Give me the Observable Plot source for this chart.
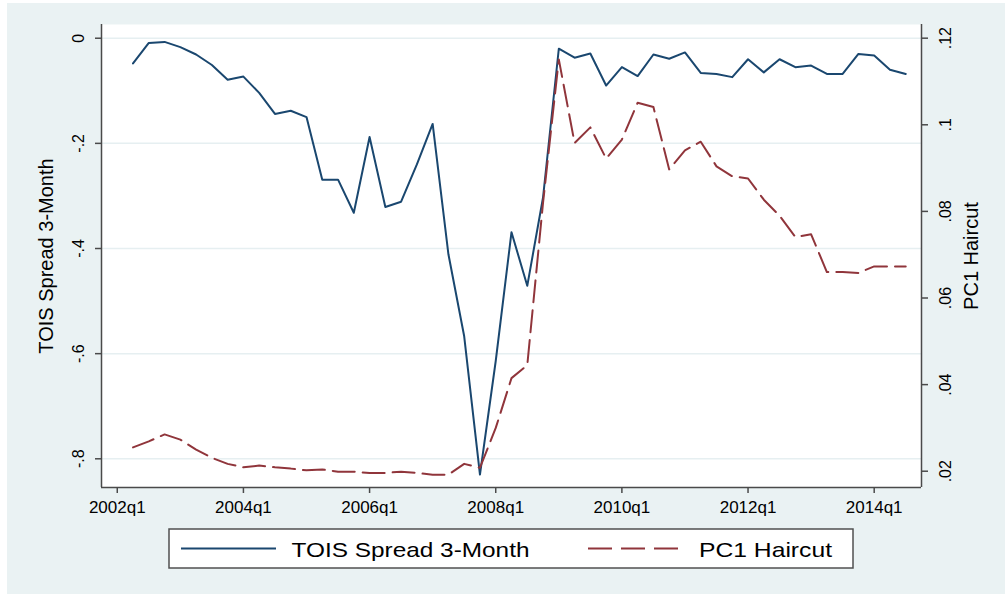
<!DOCTYPE html>
<html>
<head>
<meta charset="utf-8">
<script src="https://cdn.jsdelivr.net/npm/d3@7"></script>
<script src="https://cdn.jsdelivr.net/npm/@observablehq/plot@0.6"></script>
<style>
  html, body { margin: 0; padding: 0; background: #ffffff; }
  #bg { position: absolute; left: 7px; top: 3px; width: 998px; height: 591px; background: #EAF2F3; }
  #chart { position: absolute; left: 0; top: 0; }
  #legend { position: absolute; left: 168px; top: 528px; }
</style>
</head>
<body>
<div id="bg"></div>
<div id="chart"></div>
<div id="legend"></div>
<script>
// ---------------- data ----------------
const quarters = [
  "2002q2","2002q3","2002q4",
  "2003q1","2003q2","2003q3","2003q4",
  "2004q1","2004q2","2004q3","2004q4",
  "2005q1","2005q2","2005q3","2005q4",
  "2006q1","2006q2","2006q3","2006q4",
  "2007q1","2007q2","2007q3","2007q4",
  "2008q1","2008q2","2008q3","2008q4",
  "2009q1","2009q2","2009q3","2009q4",
  "2010q1","2010q2","2010q3","2010q4",
  "2011q1","2011q2","2011q3","2011q4",
  "2012q1","2012q2","2012q3","2012q4",
  "2013q1","2013q2","2013q3","2013q4",
  "2014q1","2014q2","2014q3"
];
const toisSpread = [
  -0.048, -0.009, -0.007,
  -0.017, -0.031, -0.051, -0.079,
  -0.073, -0.104, -0.144, -0.138,
  -0.150, -0.269, -0.269, -0.332,
  -0.188, -0.321, -0.311, -0.240,
  -0.163, -0.411, -0.567, -0.830,
  -0.614, -0.369, -0.471, -0.303,
  -0.020, -0.037, -0.029, -0.090,
  -0.055, -0.072, -0.031, -0.039,
  -0.027, -0.066, -0.068, -0.074,
  -0.040, -0.065, -0.040, -0.055,
  -0.052, -0.068, -0.068, -0.030,
  -0.033, -0.060, -0.068
];
const pc1Haircut = [
  0.0255, 0.0269, 0.0285,
  0.0273, 0.0250, 0.0231, 0.0217,
  0.0209, 0.0213, 0.0209, 0.0206,
  0.0202, 0.0204, 0.0199, 0.0199,
  0.0196, 0.0196, 0.0199, 0.0196,
  0.0192, 0.0192, 0.0217, 0.0208,
  0.0300, 0.0415, 0.0445, 0.0820,
  0.1151, 0.0958, 0.0994, 0.0922,
  0.0966, 0.1051, 0.1041, 0.0897,
  0.0941, 0.0961, 0.0904, 0.0881,
  0.0876, 0.0827, 0.0790, 0.0741,
  0.0747, 0.0660, 0.0660, 0.0658,
  0.0673, 0.0673, 0.0673
];
const xTickLabels = ["2002q1","2004q1","2006q1","2008q1","2010q1","2012q1","2014q1"];
const leftTicks = [0, -0.2, -0.4, -0.6, -0.8];
const leftTickLabels = ["0", "-.2", "-.4", "-.6", "-.8"];
const rightTicks = [0.02, 0.04, 0.06, 0.08, 0.10, 0.12];
const rightTickLabels = [".02", ".04", ".06", ".08", ".1", ".12"];
const seriesNames = ["TOIS Spread 3-Month", "PC1 Haircut"];
const leftTitle = "TOIS Spread 3-Month";
const rightTitle = "PC1 Haircut";

// ---------------- scales ----------------
const qIndex = s => (+s.slice(0, 4) - 2002) * 4 + (+s.slice(5) - 1);
const xDomain = [qIndex("2001q4"), qIndex("2014q4")];
const leftDomain = [-0.8546, 0.0261];
const rightDomain = [0.01624, 0.12316];
const toLeft = d3.scaleLinear(rightDomain, leftDomain);

const blue = "#1a476f";
const red = "#90353b";
const axisGray = "#4a4a4a";

const data = quarters.map((q, i) => ({
  t: qIndex(q),
  tois: toisSpread[i],
  haircut: pc1Haircut[i],
  haircutL: toLeft(pc1Haircut[i])
}));
const xTicks = xTickLabels.map(qIndex);
const rightTicksL = rightTicks.map(toLeft);

const W = 1005, H = 525;
const chart = Plot.plot({
  width: W,
  height: H,
  marginTop: 24,
  marginLeft: 101,
  marginRight: 84,
  marginBottom: H - 487,
  style: { background: "transparent", fontFamily: "'Liberation Sans', Arial, sans-serif", fontSize: "16px", color: "black" },
  x: { domain: xDomain, label: null },
  y: { domain: leftDomain, label: null },
  marks: [
    Plot.frame({ fill: "white", stroke: "none" }),
    Plot.gridY(leftTicks, { stroke: "#E6EFF1", strokeOpacity: 1, strokeWidth: 1.5 }),
    Plot.lineY(data, { x: "t", y: "tois", stroke: blue, strokeWidth: 2 }),
    Plot.lineY(data, { x: "t", y: "haircutL", stroke: red, strokeWidth: 2, strokeDasharray: "22,8" }),
    Plot.ruleX([xDomain[0]], { stroke: axisGray, strokeWidth: 1.5 }),
    Plot.ruleX([xDomain[1]], { stroke: axisGray, strokeWidth: 1.5 }),
    Plot.ruleY([leftDomain[0]], { stroke: axisGray, strokeWidth: 1.5 }),
    Plot.axisX(xTicks, {
      anchor: "bottom", label: null, tickSize: 6, tickPadding: 7,
      stroke: axisGray, strokeWidth: 1.5, fill: "black", fontSize: 17,
      tickFormat: d => xTickLabels[xTicks.indexOf(d)]
    }),
    Plot.axisY(leftTicks, {
      anchor: "left", label: null, tickSize: 6, tickPadding: 12, tickRotate: -90,
      stroke: axisGray, strokeWidth: 1.5, fill: "black", fontSize: 16,
      tickFormat: d => leftTickLabels[leftTicks.indexOf(d)]
    }),
    Plot.axisY(rightTicksL, {
      anchor: "right", label: null, tickSize: 6, tickPadding: 12, tickRotate: -90, lineAnchor: "top",
      stroke: axisGray, strokeWidth: 1.5, fill: "black", fontSize: 16,
      tickFormat: d => rightTickLabels[rightTicksL.indexOf(d)]
    }),
    Plot.text([leftTitle], {
      text: d => d, frameAnchor: "left", dx: -54.5, rotate: -90,
      lineAnchor: "middle", textAnchor: "middle", fontSize: 20, fill: "black"
    }),
    Plot.text([rightTitle], {
      text: d => d, frameAnchor: "right", dx: 50, rotate: -90,
      lineAnchor: "middle", textAnchor: "middle", fontSize: 20, fill: "black"
    })
  ]
});
document.getElementById("chart").appendChild(chart);

// ---------------- legend (below the plot) ----------------
const lg = d3.select("#legend").append("svg")
  .attr("width", 688).attr("height", 42)
  .style("font-family", "'Liberation Sans', Arial, sans-serif");
lg.append("rect").attr("x", 1).attr("y", 1).attr("width", 684).attr("height", 39)
  .attr("fill", "white").attr("stroke", "#505050").attr("stroke-width", 1.5);
const keys = [
  { name: seriesNames[0], color: blue, dash: null, x0: 13, x1: 108, tx: 123.5, tl: 238 },
  { name: seriesNames[1], color: red, dash: "24,9", x0: 420, x1: 514, tx: 531, tl: 133 }
];
for (const k of keys) {
  lg.append("line").attr("x1", k.x0).attr("x2", k.x1).attr("y1", 20.5).attr("y2", 20.5)
    .attr("stroke", k.color).attr("stroke-width", 2)
    .attr("stroke-dasharray", k.dash);
  lg.append("text").attr("x", k.tx).attr("y", 28.5).attr("font-size", 21)
    .attr("textLength", k.tl).attr("lengthAdjust", "spacingAndGlyphs")
    .attr("fill", "black").text(k.name);
}
</script>
</body>
</html>
